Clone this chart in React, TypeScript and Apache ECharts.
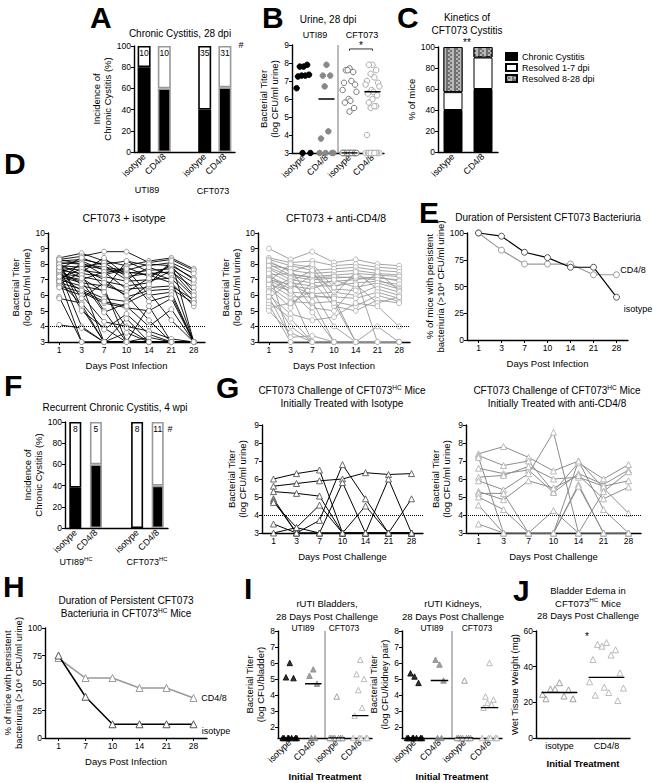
import React, { useEffect, useRef } from 'react';
import * as echarts from 'echarts';

const FONT = '"Liberation Sans", Arial, sans-serif';
const GREY = '#999999';
const MID = '#777777';

// ---------- Panel A : Chronic Cystitis, 28 dpi
const aKeys = ['UTI89-isotype', 'UTI89-CD4/8', 'gap', 'CFT073-isotype', 'CFT073-CD4/8'];
const aLabels = ['isotype', 'CD4/8', '', 'isotype', 'CD4/8'];
const aChronic = [80, 60, null, 40, 61];
const aN = ['10', '10', '', '35', '31'];

// ---------- Panel B : Urine, 28 dpi
const bLabels = ['isotype', 'CD4/8', 'isotype', 'CD4/8'];
const bUtiIso = [7.8, 7.8, 7.9, 7.3, 7.3, 7.25, 7.35, 6.6, 3, 3];
const bUtiCd = [7.9, 7.3, 7.3, 6.7, 4.2, 3.8, 3, 3, 3, 3];
const bCftIso = [7.7, 7.6, 7.5, 7.6, 7.0, 6.9, 6.8, 6.5, 6.4, 6.0, 5.9, 5.8, 5.5, 5.3,
  3, 3, 3, 3, 3, 3, 3, 3, 3, 3, 3, 3, 3, 3, 3, 3, 3, 3, 3, 3, 3];
const bCftCd = [7.9, 7.9, 7.6, 7.4, 7.2, 7.0, 6.9, 6.8, 6.7, 6.5, 6.4, 6.3, 6.2, 6.0, 5.8, 5.6, 5.5, 5.6, 4.0,
  3, 3, 3, 3, 3, 3, 3, 3, 3, 3, 3, 3];
const bMedians = [7.3, 6.0, 3, 6.4];

// ---------- Panel C : Kinetics
const cCats = ['isotype', 'CD4/8'];
const cChronic = [40, 60];
const cRes17 = [17, 30];
const cRes828 = [43, 10];

// ---------- Panel D : per-mouse titers
const days = ['1', '3', '7', '10', '14', '21', '28'];
const dIsotype = [
  [8.4, 8.7, 8.2, 7.9, 8.2, 8.4, 7.7], [8.3, 8.5, 8.8, 8.8, 8.1, 8.3, 7.6], [8.2, 8.3, 8.0, 8.2, 7.9, 8.1, 7.4],
  [8.1, 8.0, 7.8, 7.6, 8.0, 7.9, 7.1], [8.0, 8.2, 7.6, 7.4, 7.6, 7.7, 6.8], [7.9, 7.8, 8.1, 7.2, 7.4, 7.5, 6.5],
  [7.8, 7.6, 7.4, 7.8, 7.2, 7.9, 6.2], [7.7, 8.4, 7.9, 7.0, 7.8, 7.3, 5.9], [7.6, 7.4, 7.2, 6.9, 7.0, 7.1, 5.6],
  [7.5, 7.9, 7.7, 7.5, 7.3, 6.8, 5.3], [7.4, 7.2, 6.9, 6.6, 6.8, 7.6, 6.0], [7.3, 7.0, 7.5, 6.4, 6.5, 6.6, 5.7],
  [7.2, 6.8, 6.6, 6.2, 7.1, 8.0, 7.0], [7.1, 7.7, 7.0, 5.9, 6.3, 6.4, 5.5], [7.0, 6.6, 6.3, 8.2, 7.5, 7.0, 3],
  [6.9, 8.1, 7.3, 7.7, 6.0, 6.2, 3], [6.8, 6.4, 5.8, 5.6, 6.7, 8.2, 3], [6.7, 7.5, 8.4, 7.3, 5.6, 6.0, 3],
  [6.6, 6.2, 5.5, 5.2, 5.0, 5.8, 3], [6.5, 6.0, 4.3, 4.0, 3.7, 3.2, 3], [7.9, 5.8, 6.8, 6.0, 4.4, 3, 3],
  [8.2, 5.2, 3, 3.6, 3, 3, 3], [7.7, 5.0, 3.9, 3, 3.3, 3, 3], [7.5, 4.0, 3, 3, 3, 3, 3],
  [8.0, 7.3, 5.0, 3, 3, 3, 3], [5.9, 3, 3, 3, 3, 3, 3], [5.8, 5.5, 3.8, 4.8, 3.5, 3, 3],
  [4.1, 3.9, 3, 3, 3, 3, 3], [7.3, 6.9, 4.9, 5.5, 6.2, 4.4, 3], [8.3, 8.0, 6.5, 3, 5.3, 3, 3],
  [7.6, 6.7, 3, 3, 3, 3, 3], [7.0, 3, 3, 3, 3, 3, 3], [7.8, 7.1, 6.2, 3.9, 3, 3, 3],
  [6.9, 5.4, 3, 4.5, 3, 3, 3], [7.2, 6.3, 5.6, 5.3, 4.0, 5.1, 3],
];
const dCd48 = [
  [9.0, 8.3, 8.8, 8.1, 8.3, 8.0, 7.9], [8.4, 8.1, 8.2, 7.9, 8.0, 7.8, 7.7], [8.3, 7.9, 7.6, 7.7, 7.8, 7.6, 7.5],
  [8.1, 7.6, 7.4, 7.5, 7.6, 7.4, 7.3], [8.0, 7.3, 7.2, 7.3, 7.4, 7.3, 7.2], [7.8, 7.2, 7.0, 7.1, 7.2, 7.1, 7.0],
  [7.7, 7.0, 6.8, 6.9, 7.0, 7.2, 6.9], [7.5, 6.8, 6.6, 6.6, 6.8, 6.9, 6.7], [7.3, 7.4, 7.1, 7.2, 7.1, 7.0, 6.5],
  [7.2, 6.6, 6.4, 7.0, 6.5, 6.8, 6.4], [7.1, 6.4, 7.3, 6.4, 6.3, 7.5, 6.3], [7.0, 6.2, 6.1, 6.2, 6.0, 6.6, 6.2],
  [6.9, 8.0, 7.8, 6.0, 7.5, 6.4, 6.0], [6.8, 5.9, 5.9, 5.9, 5.8, 6.2, 5.8], [6.6, 5.6, 5.5, 5.6, 5.3, 6.0, 5.6],
  [6.5, 5.2, 6.9, 5.3, 5.0, 5.7, 5.5], [6.3, 7.1, 5.2, 5.0, 6.7, 5.5, 5.9], [6.0, 4.8, 4.4, 4.6, 5.5, 5.3, 4.0],
  [5.8, 6.9, 7.6, 5.5, 3, 3, 3], [5.6, 4.5, 3, 3, 3, 3, 3], [5.4, 3, 3, 3, 3, 3, 3],
  [5.2, 5.5, 6.3, 4.0, 3, 3, 3], [5.0, 3.6, 3, 3, 3, 3, 3], [7.9, 7.7, 5.6, 3, 3, 3, 3],
  [7.6, 3, 3, 3, 3, 3, 3], [7.4, 6.1, 3, 3, 3, 3, 3], [6.2, 4.0, 3, 3, 3, 3, 3],
  [6.7, 6.3, 4.9, 3, 3, 3, 3], [5.9, 3.3, 3.4, 3, 3, 3, 3], [8.2, 7.5, 8.0, 6.5, 7.2, 3, 3],
  [7.0, 6.7, 6.0, 5.8, 3, 4.0, 3],
];

// ---------- Panel E : duration of bacteriuria
const eIsotype = [100, 97, 82, 77, 68, 68, 40];
const eCd48 = [100, 84, 71, 71, 71, 61, 61];

// ---------- Panel F : recurrent chronic cystitis
const fKeys = ['UTI89HC-isotype', 'UTI89HC-CD4/8', 'gap', 'CFT073HC-isotype', 'CFT073HC-CD4/8'];
const fLabels = ['isotype', 'CD4/8', '', 'isotype', 'CD4/8'];
const fChronic = [38, 60, null, 0, 40];
const fN = ['8', '5', '', '8', '11'];

// ---------- Panel G : challenge titers
const gDays = ['1', '3', '7', '10', '14', '21', '28'];
const gIsotype = [
  [6.0, 6.3, 6.5, 3, 3, 3, 3], [5.6, 5.75, 5.9, 6.0, 6.35, 6.25, 6.3], [5.3, 5.2, 5.05, 3, 3, 3, 3],
  [4.9, 3, 3.7, 6.8, 4.9, 3, 3], [4.8, 3, 3, 5.8, 3, 6.0, 3], [4.7, 3.3, 4.55, 3, 4.5, 3, 4.9],
  [3.5, 3, 3, 3, 3, 3, 3], [3, 3.3, 3, 3, 3, 3, 3],
];
const gCd48 = [
  [7.4, 7.8, 7.2, 6.45, 7.0, 5.5, 4.1], [7.3, 6.75, 7.0, 5.3, 6.9, 6.0, 6.8], [6.6, 6.3, 6.5, 5.25, 6.3, 5.7, 6.5],
  [6.1, 6.2, 6.7, 6.0, 6.1, 5.6, 5.9], [5.9, 5.4, 6.3, 8.6, 3, 5.3, 6.4], [5.3, 4.85, 5.9, 5.5, 6.2, 4.9, 5.55],
  [5.2, 5.2, 3, 3, 7.0, 4.3, 3], [5.0, 4.3, 3, 4.25, 3, 3, 3], [4.55, 3, 3, 3, 5.7, 3, 3],
  [3.5, 3, 3, 3, 3, 3, 3], [7.2, 3, 3, 3, 5.6, 3, 3],
];

// ---------- Panel H
const hDays = ['1', '7', '10', '14', '21', '28'];
const hIsotype = [75, 37.5, 12.5, 12.5, 12.5, 12.5];
const hCd48 = [72.7, 54.5, 54.5, 45.5, 45.5, 36.4];

// ---------- Panel I
const iLabels = ['isotype', 'CD4/8', 'isotype', 'CD4/8'];
const iBladUtiIso = [6.0, 5.1, 5.05, 1.3, 1.3, 1.3, 1.3, 1.3, 1.3, 1.3];
const iBladUtiCd = [5.6, 5.2, 4.7, 1.3, 1.3];
const iBladCftIso = [3.9, 1.3, 1.3, 1.3, 1.3, 1.3, 1.3, 1.3];
const iBladCftCd = [6.2, 5.3, 5.0, 4.3, 3.2, 2.7, 1.3, 1.3, 1.3, 1.3, 1.3];
const iBladMedians = [1.3, 4.7, 1.3, 2.7];
const iKidUtiIso = [5.15, 5.35, 4.75, 1.3, 1.3, 1.3, 1.3, 1.3, 1.3, 1.3];
const iKidUtiCd = [5.9, 6.2, 4.9, 1.3, 1.3];
const iKidCftIso = [4.9, 1.3, 1.3, 1.3, 1.3, 1.3, 1.3, 1.3];
const iKidCftCd = [6.0, 3.9, 3.7, 3.5, 3.4, 3.2, 1.3, 1.3, 1.3, 1.3, 1.3];
const iKidMedians = [1.3, 4.9, 1.3, 3.2];
const iTicks = [2, 3, 4, 5, 6, 7, 8];

// ---------- Panel J
const jLabels = ['isotype', 'CD4/8'];
const jIsotype = [31, 27.5, 27, 27.5, 23.5, 22, 22, 24.5];
const jCd48 = [53.5, 52.5, 49.5, 51.5, 46.5, 44, 36.5, 31.5, 28, 28.5, 25.5, 24, 21];
const jMedians = [25.5, 34];

// ------------------------------------------------------------------
const JIT = [0, -0.16, 0.16, -0.08, 0.08, -0.24, 0.24, -0.3, 0.3, -0.04, 0.04, -0.2, 0.2];
function jit(vals: number[], cx: number, s = 1) {
  return vals.map((v, i) => [cx + JIT[i % JIT.length] * s, v]);
}

function ax(o: any) {
  return {
    ...o,
    axisLine: { show: true, onZero: false, lineStyle: { color: '#000', width: 1.4 }, ...(o.axisLine || {}) },
    axisTick: { show: true, length: 3, lineStyle: { color: '#000' }, ...(o.axisTick || {}) },
    axisLabel: { fontSize: 8.5, color: '#000', fontFamily: FONT, margin: 3, ...(o.axisLabel || {}) },
    splitLine: { show: false },
    nameTextStyle: { fontSize: 9.5, color: '#000', fontFamily: FONT, lineHeight: 11, ...(o.nameTextStyle || {}) },
  };
}

function T(x: number, y: number, text: string, size = 10, extra: any = {}) {
  return {
    type: 'text', x, y, silent: true,
    style: { text, fontSize: size, fontFamily: FONT, fill: '#000', align: 'center', verticalAlign: 'middle', ...extra },
  };
}
function TR(x: number, y: number, text: string, size = 10, extra: any = {}) {
  return {
    type: 'text', x, y, silent: true,
    style: {
      text, align: 'center', verticalAlign: 'middle', fill: '#000',
      rich: {
        n: { fontSize: size, fontFamily: FONT, lineHeight: size + 3 },
        s: { fontSize: size * 0.65, fontFamily: FONT, lineHeight: size * 0.75, verticalAlign: 'top' },
      },
      ...extra,
    },
  };
}
function L(x: number, y: number, t: string) {
  return { type: 'text', x, y, silent: true, style: { text: t, fontSize: 30, fontWeight: 'bold', fontFamily: FONT, fill: '#000', align: 'left', verticalAlign: 'middle' } };
}

function buildOption() {
  const grid: any[] = [], xAxis: any[] = [], yAxis: any[] = [], series: any[] = [], graphic: any[] = [];
  const add = (r: number[], x: any, y: any) => {
    const i = grid.length;
    grid.push({ left: r[0], top: r[1], width: r[2], height: r[3] });
    xAxis.push({ ...ax(x), gridIndex: i });
    yAxis.push({ ...ax(y), gridIndex: i });
    return i;
  };
  const S = (g: number, o: any) => series.push({ xAxisIndex: g, yAxisIndex: g, animation: false, ...o });
  const yName = (name: string, gap: number, extra: any = {}) => ({ name, nameLocation: 'middle', nameGap: gap, nameRotate: 90, ...extra });
  const dotted = { silent: true, symbol: 'none', label: { show: false }, lineStyle: { type: 'dotted', color: '#000', width: 1 }, data: [{ yAxis: 4 }] };

  // ---- A
  const gA = add([134, 46, 101, 106],
    { type: 'category', data: aKeys, axisTick: { show: false }, axisLabel: { rotate: 45, interval: 0, fontSize: 9, formatter: (v: string) => aLabels[aKeys.indexOf(v)] } },
    { type: 'value', min: 0, max: 100, interval: 20, ...yName('Incidence of\nChronic Cystitis (%)', 20) });
  const bordA = (k: string) => (k.endsWith('isotype') ? '#000' : GREY);
  S(gA, { type: 'bar', stack: 'a', barWidth: 13, data: aChronic.map((v, i) => v == null ? '-' : { value: v, itemStyle: { color: '#000', borderColor: bordA(aKeys[i]), borderWidth: 1.6 } }) });
  S(gA, { type: 'bar', stack: 'a', barWidth: 13, data: aChronic.map((v, i) => v == null ? '-' : { value: 100 - v, itemStyle: { color: '#fff', borderColor: bordA(aKeys[i]), borderWidth: 1.6 }, label: { show: true, position: 'insideTop', formatter: aN[i], fontSize: 8.5, color: '#000', fontFamily: FONT, distance: 2 } }) });

  // ---- B
  const gB = add([292, 45, 92, 108],
    { type: 'value', min: 0, max: 4, axisTick: { show: false }, axisLabel: { rotate: 45, fontSize: 9, customValues: [0.5, 1.5, 2.5, 3.5], formatter: (v: number) => bLabels[Math.floor(v)] } },
    { type: 'value', min: 3, max: 9, interval: 1, ...yName('Bacterial Titer\n(log CFU/ml urine)', 12) });
  const bGroups = [
    { v: bUtiIso, fill: '#000', stroke: '#000' },
    { v: bUtiCd, fill: '#888', stroke: '#888' },
    { v: bCftIso, fill: '#fff', stroke: '#777' },
    { v: bCftCd, fill: '#fff', stroke: '#aaa' },
  ];
  bGroups.forEach((g, k) => {
    S(gB, { type: 'scatter', symbol: 'circle', symbolSize: 5.5, data: jit(g.v, k + 0.5, 1), itemStyle: { color: g.fill, borderColor: g.stroke, borderWidth: 1, opacity: 1 } });
    S(gB, { type: 'line', symbol: 'none', z: 5, data: [[k + 0.15, bMedians[k]], [k + 0.85, bMedians[k]]], lineStyle: { color: '#000', width: 1.4 } });
  });
  S(gB, { type: 'line', symbol: 'none', data: [[2, 3], [2, 9]], lineStyle: { color: MID, width: 1 } });
  S(gB, { type: 'line', symbol: 'none', data: [[2.5, 8.68], [2.5, 8.78], [3.5, 8.78], [3.5, 8.68]], lineStyle: { color: '#000', width: 0.8 } });

  // ---- C
  const gC = add([438, 47, 60, 105],
    { type: 'category', data: cCats, axisTick: { show: false }, axisLabel: { rotate: 45, interval: 0, fontSize: 9 } },
    { type: 'value', min: 0, max: 100, interval: 20, ...yName('% of mice', 18) });
  S(gC, { type: 'bar', name: 'Chronic Cystitis', stack: 'c', barWidth: 19, data: cChronic, itemStyle: { color: '#000', borderColor: '#000', borderWidth: 1 } });
  S(gC, { type: 'bar', name: 'Resolved 1-7 dpi', stack: 'c', barWidth: 19, data: cRes17, itemStyle: { color: '#fff', borderColor: '#000', borderWidth: 1 } });
  S(gC, { type: 'bar', name: 'Resolved 8-28 dpi', stack: 'c', barWidth: 19, data: cRes828, itemStyle: { color: '#707070', borderColor: '#000', borderWidth: 1, decal: { symbol: 'rect', symbolSize: 1, color: '#b8b8b8', dashArrayX: [[2, 2], [0, 2, 2]], dashArrayY: [2, 0], rotation: 0 } } });

  // ---- D
  const dayX = (extra: any = {}) => ({ type: 'category', data: days, boundaryGap: true, axisTick: { alignWithLabel: true }, axisLabel: { interval: 0, fontSize: 8.5 }, name: 'Days Post Infection', nameLocation: 'middle', nameGap: 18, ...extra });
  const gD1 = add([48, 233, 157, 109], dayX(), { type: 'value', min: 3, max: 10, interval: 1, ...yName('Bacterial Titer\n(log CFU/ml urine)', 14) });
  dIsotype.forEach((row, i) => S(gD1, { type: 'line', data: row, symbol: 'circle', symbolSize: 5, lineStyle: { color: '#000', width: 0.9 }, itemStyle: { color: '#fff', borderColor: '#888', borderWidth: 0.8 }, z: 3, markLine: i === 0 ? dotted : undefined }));
  const gD2 = add([258, 233, 152, 109], dayX(), { type: 'value', min: 3, max: 10, interval: 1, ...yName('Bacterial Titer\n(log CFU/ml urine)', 14) });
  dCd48.forEach((row, i) => S(gD2, { type: 'line', data: row, symbol: 'circle', symbolSize: 5, lineStyle: { color: '#999', width: 0.9 }, itemStyle: { color: '#fff', borderColor: '#aaa', borderWidth: 0.8 }, z: 3, markLine: i === 0 ? dotted : undefined }));

  // ---- E
  const gE = add([467, 233, 161, 107], dayX(), { type: 'value', min: 0, max: 100, interval: 25, ...yName('% of mice with persistent\nbacteriuria (>10\u2074 CFU/ml urine)', 18) });
  S(gE, { type: 'line', data: eCd48, symbol: 'circle', symbolSize: 6, lineStyle: { color: '#999', width: 1.2 }, itemStyle: { color: '#fff', borderColor: '#999', borderWidth: 1 }, z: 3 });
  S(gE, { type: 'line', data: eIsotype, symbol: 'circle', symbolSize: 6, lineStyle: { color: '#000', width: 1.2 }, itemStyle: { color: '#fff', borderColor: '#555', borderWidth: 1 }, z: 4 });

  // ---- F
  const gF = add([65, 422, 103, 106],
    { type: 'category', data: fKeys, axisTick: { show: false }, axisLabel: { rotate: 45, interval: 0, fontSize: 9, formatter: (v: string) => fLabels[fKeys.indexOf(v)] } },
    { type: 'value', min: 0, max: 100, interval: 20, ...yName('Incidence of\nChronic Cystitis (%)', 20) });
  S(gF, { type: 'bar', stack: 'f', barWidth: 12, data: fChronic.map((v, i) => v == null ? '-' : { value: v, itemStyle: { color: '#000', borderColor: bordA(fKeys[i]), borderWidth: 1.6 } }) });
  S(gF, { type: 'bar', stack: 'f', barWidth: 12, data: fChronic.map((v, i) => v == null ? '-' : { value: 100 - v, itemStyle: { color: '#fff', borderColor: bordA(fKeys[i]), borderWidth: 1.6 }, label: { show: true, position: 'insideTop', formatter: fN[i], fontSize: 8.5, color: '#000', fontFamily: FONT, distance: 2 } }) });

  // ---- G
  const chX = { type: 'category', data: gDays, boundaryGap: true, axisTick: { alignWithLabel: true }, axisLabel: { interval: 0, fontSize: 8.5 }, name: 'Days Post Challenge', nameLocation: 'middle', nameGap: 18 };
  const gG1 = add([262, 425, 161, 108], chX, { type: 'value', min: 3, max: 9, interval: 1, ...yName('Bacterial Titer\n(log CFU/ml urine)', 14) });
  gIsotype.forEach((row, i) => S(gG1, { type: 'line', data: row, symbol: 'triangle', symbolSize: 6, lineStyle: { color: '#000', width: 1 }, itemStyle: { color: '#fff', borderColor: '#444', borderWidth: 0.8 }, z: 3, markLine: i === 0 ? dotted : undefined }));
  const gG2 = add([466, 425, 175, 108], chX, { type: 'value', min: 3, max: 9, interval: 1, ...yName('Bacterial Titer\n(log CFU/ml urine)', 14) });
  gCd48.forEach((row, i) => S(gG2, { type: 'line', data: row, symbol: 'triangle', symbolSize: 6, lineStyle: { color: '#8c8c8c', width: 1 }, itemStyle: { color: '#fff', borderColor: '#aaa', borderWidth: 0.8 }, z: 3, markLine: i === 0 ? dotted : undefined }));

  // ---- H
  const gH = add([45, 628, 162, 110],
    { type: 'category', data: hDays, boundaryGap: true, axisTick: { alignWithLabel: true }, axisLabel: { interval: 0, fontSize: 8.5 }, name: 'Days Post Infection', nameLocation: 'middle', nameGap: 18 },
    { type: 'value', min: 0, max: 100, interval: 25, ...yName('% of mice with persistent\nbacteriuria (>10\u2074 CFU/ml urine)', 20) });
  S(gH, { type: 'line', data: hCd48, symbol: 'triangle', symbolSize: 7, lineStyle: { color: '#999', width: 1.5 }, itemStyle: { color: '#fff', borderColor: '#999', borderWidth: 1 }, z: 3 });
  S(gH, { type: 'line', data: hIsotype, symbol: 'triangle', symbolSize: 7, lineStyle: { color: '#000', width: 1.5 }, itemStyle: { color: '#fff', borderColor: '#555', borderWidth: 1 }, z: 4 });

  // ---- I
  const iX = { type: 'value', min: 0, max: 4, axisTick: { show: false }, axisLabel: { rotate: 45, fontSize: 9, customValues: [0.5, 1.5, 2.5, 3.5], formatter: (v: number) => iLabels[Math.floor(v)] }, name: 'Initial Treatment', nameLocation: 'middle', nameGap: 33, nameTextStyle: { fontWeight: 'bold', fontSize: 9.5 } };
  const iY = (nm: string) => ({ type: 'value', min: 1.3, max: 8, axisLabel: { customValues: iTicks }, axisTick: { customValues: iTicks }, ...yName(nm, 12) });
  const iStyles = [
    { fill: '#000', stroke: '#000' }, { fill: '#888', stroke: '#888' },
    { fill: '#fff', stroke: '#888' }, { fill: '#fff', stroke: '#aaa' },
  ];
  const gI1 = add([278, 631, 94, 107], iX, iY('Bacterial Titer\n(log CFU/bladder)'));
  [iBladUtiIso, iBladUtiCd, iBladCftIso, iBladCftCd].forEach((v, k) => {
    S(gI1, { type: 'scatter', symbol: 'triangle', symbolSize: 5.5, data: jit(v, k + 0.5, 1), itemStyle: { color: iStyles[k].fill, borderColor: iStyles[k].stroke, borderWidth: 1 } });
    S(gI1, { type: 'line', symbol: 'none', z: 5, data: [[k + 0.15, iBladMedians[k]], [k + 0.85, iBladMedians[k]]], lineStyle: { color: '#000', width: 1.4 } });
  });
  S(gI1, { type: 'line', symbol: 'none', data: [[2, 1.3], [2, 8]], lineStyle: { color: MID, width: 1 } });
  const gI2 = add([402, 631, 100, 107], iX, iY('Bacterial Titer\n(log CFU/kidney pair)'));
  [iKidUtiIso, iKidUtiCd, iKidCftIso, iKidCftCd].forEach((v, k) => {
    S(gI2, { type: 'scatter', symbol: 'triangle', symbolSize: 5.5, data: jit(v, k + 0.5, 1), itemStyle: { color: iStyles[k].fill, borderColor: iStyles[k].stroke, borderWidth: 1 } });
    S(gI2, { type: 'line', symbol: 'none', z: 5, data: [[k + 0.15, iKidMedians[k]], [k + 0.85, iKidMedians[k]]], lineStyle: { color: '#000', width: 1.4 } });
  });
  S(gI2, { type: 'line', symbol: 'none', data: [[2, 1.3], [2, 8]], lineStyle: { color: MID, width: 1 } });

  // ---- J
  const gJ = add([536, 631, 94, 107],
    { type: 'value', min: 0, max: 2, axisTick: { show: false }, axisLabel: { fontSize: 9, customValues: [0.5, 1.5], formatter: (v: number) => jLabels[Math.floor(v)] }, name: 'Initial Treatment', nameLocation: 'middle', nameGap: 20, nameTextStyle: { fontWeight: 'bold', fontSize: 9.5 } },
    { type: 'value', min: 0, max: 60, interval: 20, ...yName('Wet Tissue Weight (mg)', 16) });
  S(gJ, { type: 'scatter', symbol: 'triangle', symbolSize: 6, data: jit(jIsotype, 0.5, 1.2), itemStyle: { color: '#fff', borderColor: '#888', borderWidth: 1 } });
  S(gJ, { type: 'scatter', symbol: 'triangle', symbolSize: 6, data: jit(jCd48, 1.5, 1.2), itemStyle: { color: '#fff', borderColor: '#aaa', borderWidth: 1 } });
  jMedians.forEach((m, k) => S(gJ, { type: 'line', symbol: 'none', z: 5, data: [[k + 0.12, m], [k + 0.88, m]], lineStyle: { color: '#000', width: 1.4 } }));

  // ---- texts
  graphic.push(
    L(90, 17, 'A'), L(262, 17, 'B'), L(397, 17, 'C'), L(4, 163, 'D'), L(419, 212, 'E'),
    L(4, 385, 'F'), L(216, 387, 'G'), L(3, 586, 'H'), L(244, 588, 'I'), L(513, 590, 'J'),
    T(180, 33, 'Chronic Cystitis, 28 dpi'),
    T(241, 45, '#', 9),
    T(147, 190, 'UTI89', 9), T(213, 191, 'CFT073', 9),
    T(328, 19, 'Urine, 28 dpi'),
    T(315, 35, 'UTI89', 9), T(362, 35, 'CFT073', 9),
    T(361, 45, '*', 10),
    T(467, 17, 'Kinetics of'), T(467, 30, 'CFT073 Cystitis'),
    T(467, 42, '**', 10),
    T(124, 218, 'CFT073 + isotype', 10.5), T(336, 218, 'CFT073 + anti-CD4/8', 10.5),
    T(548, 217, 'Duration of Persistent CFT073 Bacteriuria'),
    T(633, 270, 'CD4/8', 9), T(638, 309, 'isotype', 9),
    T(115, 407, 'Recurrent Chronic Cystitis, 4 wpi'),
    T(170, 429, '#', 9),
    TR(76, 562, '{n|UTI89}{s|HC}', 9), TR(147, 562, '{n|CFT073}{s|HC}', 9),
    TR(342, 397, '{n|CFT073 Challenge of CFT073}{s|HC}{n| Mice}\n{n|Initially Treated with Isotype}', 10),
    TR(557, 397, '{n|CFT073 Challenge of CFT073}{s|HC}{n| Mice}\n{n|Initially Treated with anti-CD4/8}', 10),
    TR(126, 607, '{n|Duration of Persistent CFT073}\n{n|Bacteriuria in CFT073}{s|HC}{n| Mice}', 10),
    T(214, 698, 'CD4/8', 9), T(216, 731, 'isotype', 9),
    T(327, 603, 'rUTI Bladders,', 9.5), T(327, 616, '28 Days Post Challenge', 9.5),
    T(303, 628, 'UTI89', 8.5), T(344, 628, 'CFT073', 8.5),
    T(453, 603, 'rUTI Kidneys,', 9.5), T(453, 616, '28 Days Post Challenge', 9.5),
    T(432, 628, 'UTI89', 8.5), T(477, 628, 'CFT073', 8.5),
    TR(588, 603, '{n|Bladder Edema in}\n{n|CFT073}{s|HC}{n| Mice}\n{n|28 Days Post Challenge}', 9.5),
    T(587, 636, '*', 10),
  );

  return {
    animation: false,
    backgroundColor: '#fff',
    textStyle: { fontFamily: FONT },
    legend: {
      data: ['Chronic Cystitis', 'Resolved 1-7 dpi', 'Resolved 8-28 dpi'],
      orient: 'vertical', left: 500, top: 47, itemWidth: 11, itemHeight: 7, itemGap: 2, icon: 'rect',
      textStyle: { fontSize: 9, fontFamily: FONT, color: '#000' }, selectedMode: false,
    },
    grid, xAxis, yAxis, series, graphic,
  };
}

export default function App() {
  const ref = useRef<HTMLDivElement>(null);
  useEffect(() => {
    document.body.style.margin = '0';
    const chart = echarts.init(ref.current!, null, { renderer: 'svg' });
    chart.setOption(buildOption() as any);
    return () => chart.dispose();
  }, []);
  return <div ref={ref} style={{ width: 653, height: 783 }} />;
}
